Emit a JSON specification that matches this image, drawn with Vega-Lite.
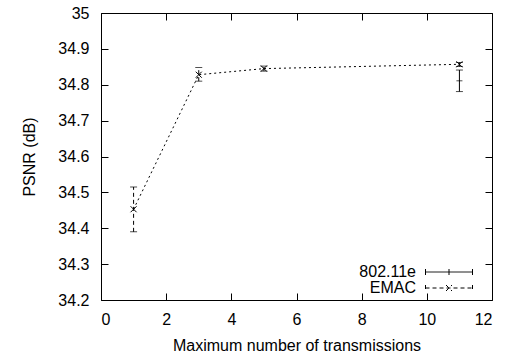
{
  "$schema": "https://vega.github.io/schema/vega-lite/v6.json",
  "width": 391,
  "height": 287,
  "autosize": {"type": "none"},
  "padding": {"left": 101, "top": 13, "right": 15, "bottom": 56},
  "background": "white",
  "config": {
    "view": {"stroke": "#000", "strokeWidth": 1},
    "font": "Liberation Sans",
    "axis": {"labelFont": "Liberation Sans", "titleFont": "Liberation Sans", "labelFontSize": 16, "titleFontSize": 16, "labelColor": "#000", "titleColor": "#000", "titleFontWeight": "normal", "tickColor": "#000", "grid": false, "domain": false, "tickSize": -7, "tickWidth": 1}
  },
  "data": {"values": [
    {"series": "802.11e", "x": 11, "y": 34.811, "lo": 34.781, "hi": 34.841},
    {"series": "EMAC", "x": 1, "y": 34.453, "lo": 34.39, "hi": 34.515},
    {"series": "EMAC", "x": 3, "y": 34.828, "lo": 34.81, "hi": 34.848},
    {"series": "EMAC", "x": 5, "y": 34.845, "lo": 34.838, "hi": 34.852},
    {"series": "EMAC", "x": 11, "y": 34.857, "lo": 34.851, "hi": 34.862}
  ]},
  "resolve": {"axis": {"x": "independent", "y": "independent"}},
  "layer": [
    {
      "transform": [{"filter": "datum.series === 'EMAC'"}],
      "mark": {"type": "line", "color": "#000", "strokeWidth": 1, "strokeDash": [2, 3]},
      "encoding": {
        "x": {"field": "x", "type": "quantitative", "scale": {"domain": [0, 12], "nice": false, "zero": false},
              "axis": {"orient": "bottom", "values": [0, 2, 4, 6, 8, 10, 12], "title": "Maximum number of transmissions", "labelPadding": 18, "titlePadding": 10}},
        "y": {"field": "y", "type": "quantitative", "scale": {"domain": [34.2, 35], "nice": false, "zero": false},
              "axis": {"orient": "left", "values": [34.2, 34.3, 34.4, 34.5, 34.6, 34.7, 34.8, 34.9, 35], "format": "~g", "title": "PSNR (dB)", "labelPadding": 19, "titlePadding": 20}}
      }
    },
    {
      "mark": {"type": "point", "opacity": 0},
      "encoding": {
        "x": {"field": "x", "type": "quantitative", "axis": {"orient": "top", "values": [0, 2, 4, 6, 8, 10, 12], "labels": false, "title": null}},
        "y": {"field": "y", "type": "quantitative", "axis": {"orient": "right", "values": [34.2, 34.3, 34.4, 34.5, 34.6, 34.7, 34.8, 34.9, 35], "labels": false, "title": null}}
      }
    },
    {
      "transform": [{"filter": "datum.series === '802.11e'"}],
      "mark": {"type": "rule", "color": "#000", "strokeWidth": 1},
      "encoding": {
        "x": {"field": "x", "type": "quantitative", "axis": null},
        "y": {"field": "lo", "type": "quantitative", "axis": null},
        "y2": {"field": "hi"}
      }
    },
    {
      "transform": [{"filter": "datum.series === 'EMAC'"}],
      "mark": {"type": "rule", "color": "#000", "strokeWidth": 1, "strokeDash": [4, 3]},
      "encoding": {
        "x": {"field": "x", "type": "quantitative", "axis": null},
        "y": {"field": "lo", "type": "quantitative", "axis": null},
        "y2": {"field": "hi"}
      }
    },
    {
      "mark": {"type": "tick", "orient": "horizontal", "color": "#000", "size": 7, "thickness": 1},
      "encoding": {
        "x": {"field": "x", "type": "quantitative", "axis": null},
        "y": {"field": "lo", "type": "quantitative", "axis": null}
      }
    },
    {
      "mark": {"type": "tick", "orient": "horizontal", "color": "#000", "size": 7, "thickness": 1},
      "encoding": {
        "x": {"field": "x", "type": "quantitative", "axis": null},
        "y": {"field": "hi", "type": "quantitative", "axis": null}
      }
    },
    {
      "transform": [{"filter": "datum.series === '802.11e'"}],
      "mark": {"type": "tick", "orient": "horizontal", "color": "#000", "size": 6, "thickness": 1},
      "encoding": {
        "x": {"field": "x", "type": "quantitative", "axis": null},
        "y": {"field": "y", "type": "quantitative", "axis": null}
      }
    },
    {
      "transform": [{"filter": "datum.series === 'EMAC'"}],
      "mark": {"type": "point", "shape": "M-1,-1L1,1M-1,1L1,-1", "size": 36, "filled": false, "color": "#000", "strokeWidth": 1, "opacity": 1},
      "encoding": {
        "x": {"field": "x", "type": "quantitative", "axis": null},
        "y": {"field": "y", "type": "quantitative", "axis": null}
      }
    },
    {
      "mark": {"type": "point", "filled": false, "color": "#000", "opacity": 0},
      "encoding": {
        "x": {"field": "x", "type": "quantitative", "axis": null},
        "y": {"field": "y", "type": "quantitative", "axis": null},
        "shape": {"field": "series", "type": "nominal",
          "scale": {"domain": ["802.11e", "EMAC"], "range": ["M-4.7,0H4.7M-4.7,-0.6V0.6M4.7,-0.6V0.6M0,-0.6V0.6", "M-4.7,0H4.7M-4.7,-0.6V0.6M4.7,-0.6V0.6M-0.6,-0.6L0.6,0.6M-0.6,0.6L0.6,-0.6"]},
          "legend": {"title": null, "orient": "none", "legendX": 340, "legendY": 251, "padding": 0, "rowPadding": -1, "symbolSize": 100, "symbolStrokeWidth": 1, "symbolStrokeColor": "#000", "symbolFillColor": "transparent", "symbolOpacity": 1, "labelAlign": "right", "labelOffset": -41, "labelFontSize": 16, "labelFont": "Liberation Sans", "labelColor": "#000",
            "encode": {
              "symbols": {"update": {"opacity": {"value": 1}, "stroke": {"value": "#000"}, "strokeWidth": {"value": 1}}},
              "labels": {"update": {"align": {"value": "right"}}}
            }}},
        "strokeDash": {"field": "series", "type": "nominal",
          "scale": {"domain": ["802.11e", "EMAC"], "range": [[1, 0], [4, 3]]}}
      }
    }
  ]
}
